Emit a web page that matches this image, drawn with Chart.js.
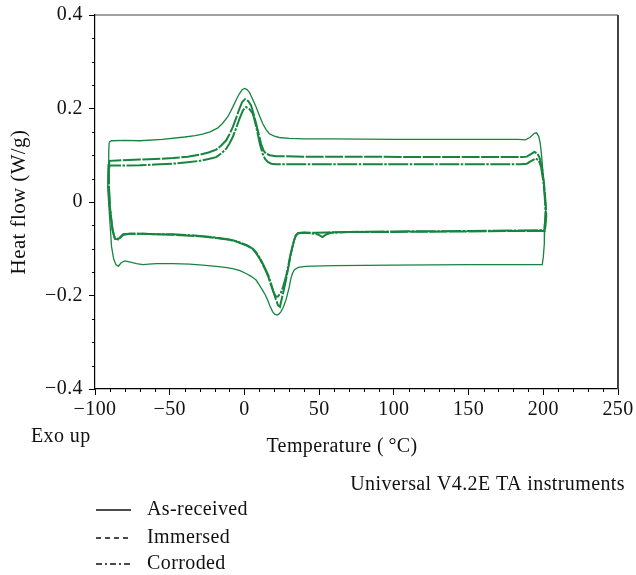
<!DOCTYPE html>
<html>
<head>
<meta charset="utf-8">
<script src="https://cdn.jsdelivr.net/npm/chart.js@4"></script>
<style>
html,body{margin:0;padding:0;background:#fff;}
#wrap{position:relative;width:636px;height:575px;}
</style>
</head>
<body>
<div id="wrap"><canvas id="c" width="636" height="575"></canvas></div>
<script>
// ---- data ----
const seriesNames = ['As-received', 'Immersed', 'Corroded'];
const xTicks = [-100, -50, 0, 50, 100, 150, 200, 250];
const yTicks = [-0.4, -0.2, 0, 0.2, 0.4];

const asReceivedT = [-90.5,-89,-80,-70,-55,-40,-33,-28,-23,-18,-14.7,-11,-7.8,-5,-3.3,-1.5,0,1.5,3.3,5.5,7.8,10,12.2,14.5,16.7,20,23.3,30,40,60,100,150,175,183,188,191,194,195.5,197,198,199,200,201,201.8,201,200.7,200,199.3,
  180,150,100,60,45,41,36,33.5,32.2,31,30,28.8,27.8,26,24.4,23,21.8,20.3,18.9,17,15.6,14,12.2,10,7.8,4.5,1.1,-3,-7.8,-13,-18.9,-28,-36.7,-48,-58.9,-64,-67.8,-72.2,-77,-80,-82.5,-84.4,-86,-87.5,-88.9,-90.4,-91.5,-91.2,-90.8,-90.5];
const asReceivedH = [0.128,0.131,0.132,0.131,0.134,0.139,0.142,0.145,0.150,0.158,0.168,0.183,0.203,0.222,0.232,0.240,0.243,0.241,0.235,0.220,0.203,0.185,0.168,0.155,0.146,0.141,0.138,0.136,0.135,0.135,0.134,0.134,0.134,0.134,0.133,0.138,0.147,0.148,0.140,0.125,0.095,0.055,0.018,-0.011,-0.046,-0.089,-0.118,-0.134,
  -0.134,-0.134,-0.135,-0.136,-0.137,-0.1375,-0.140,-0.145,-0.152,-0.165,-0.182,-0.197,-0.210,-0.225,-0.235,-0.240,-0.242,-0.240,-0.235,-0.222,-0.210,-0.199,-0.189,-0.178,-0.167,-0.159,-0.153,-0.147,-0.1425,-0.140,-0.1375,-0.135,-0.133,-0.132,-0.132,-0.133,-0.134,-0.132,-0.128,-0.126,-0.130,-0.1375,-0.134,-0.122,-0.096,-0.025,0.030,0.080,0.110,0.128];

const immersedT = [-90.8,-90.3,-85,-70,-60,-47.8,-38,-30,-24,-18.9,-15.5,-12.2,-10,-7.8,-5.5,-3.3,-1.5,0.4,2.5,4.4,6,7.8,9.5,11.1,12.8,14.4,17,21.1,40,80,120,160,180,186,189,192,194,196,197.5,199,200.5,201.5,202,201.5,201,
  180,150,100,70,55,47.8,40,36,34.4,33.2,32.2,31,30,28.8,27.8,26,24.4,23.8,22.5,21,19.5,17.8,16,14.4,12,10,7.5,5.6,2,-1.1,-5,-10,-18.9,-28,-36.7,-48,-58.9,-68,-76.7,-81.1,-83,-84.4,-86.7,-88.2,-89.2,-90,-90.6,-90.8];
const immersedH = [0.075,0.088,0.089,0.0907,0.092,0.094,0.097,0.101,0.106,0.112,0.121,0.132,0.145,0.160,0.180,0.200,0.214,0.220,0.216,0.207,0.190,0.168,0.146,0.125,0.110,0.1035,0.100,0.098,0.097,0.097,0.096,0.096,0.096,0.096,0.097,0.103,0.107,0.104,0.095,0.075,0.040,0.000,-0.030,-0.050,-0.062,
  -0.062,-0.063,-0.064,-0.064,-0.065,-0.066,-0.065,-0.066,-0.071,-0.083,-0.096,-0.112,-0.130,-0.150,-0.167,-0.193,-0.215,-0.224,-0.221,-0.208,-0.193,-0.178,-0.160,-0.148,-0.132,-0.120,-0.108,-0.101,-0.094,-0.090,-0.085,-0.081,-0.077,-0.074,-0.072,-0.070,-0.069,-0.068,-0.068,-0.069,-0.075,-0.080,-0.079,-0.061,-0.035,-0.011,0.030,0.075];

const corrodedT = [-91,-90.3,-80,-70,-60,-47.8,-38,-30,-24,-18.9,-15.5,-12.2,-10,-7.8,-5.5,-3.3,-1,1.1,3.3,5.6,7.2,8.9,10.5,12.2,13.8,15.6,18,21.1,40,80,120,160,185,189,192,195,197,198.5,200,201,201.5,201.2,200.8,
  180,150,100,70,58,55,52.2,50,47.8,40,36,34.4,33.2,32.2,31,30,28.8,27.8,26,24.4,22.5,21.1,19.5,17.8,16,14.4,12,10,7.5,5.6,2,-1.1,-5,-10,-18.9,-28,-36.7,-48,-58.9,-68,-76.7,-81.1,-83,-84.4,-86.7,-88.2,-89.2,-90,-90.8,-91];
const corrodedH = [0.060,0.078,0.078,0.0785,0.080,0.082,0.085,0.088,0.092,0.096,0.104,0.114,0.125,0.139,0.158,0.178,0.196,0.203,0.199,0.189,0.170,0.146,0.122,0.1035,0.092,0.0855,0.082,0.081,0.081,0.081,0.081,0.081,0.081,0.082,0.088,0.093,0.089,0.075,0.045,0.010,-0.020,-0.045,-0.060,
  -0.061,-0.062,-0.063,-0.064,-0.066,-0.069,-0.075,-0.071,-0.068,-0.066,-0.067,-0.072,-0.082,-0.094,-0.110,-0.125,-0.145,-0.160,-0.180,-0.194,-0.202,-0.203,-0.193,-0.1745,-0.157,-0.146,-0.130,-0.118,-0.106,-0.100,-0.093,-0.089,-0.084,-0.080,-0.076,-0.073,-0.071,-0.069,-0.069,-0.068,-0.068,-0.070,-0.076,-0.079,-0.077,-0.060,-0.035,-0.011,0.030,0.060];

// ---- build ----
const GREEN = '#17843f';
const SERIF = '"Liberation Serif", "Times New Roman", serif';
const SPACING = '0.4px';
function pts(T, H) { return T.map((t, i) => ({ x: t, y: H[i] })); }
function fmt(v) {
  if (Math.abs(v) < 1e-9) return '0';
  const s = String(Math.round(Math.abs(v) * 100) / 100);
  return v < 0 ? '\u2212' + s : s;
}
const legendDash = [[], [5, 4], [6, 3, 2, 3]];

const datasets = [
  { label: seriesNames[0], data: pts(asReceivedT, asReceivedH), borderColor: GREEN, borderWidth: 1.3, borderDash: [] },
  { label: seriesNames[1], data: pts(immersedT, immersedH), borderColor: GREEN, borderWidth: 2, borderDash: [18, 1.5] },
  { label: seriesNames[2], data: pts(corrodedT, corrodedH), borderColor: GREEN, borderWidth: 2, borderDash: [20, 1.5, 2.5, 1.5] }
].map(d => Object.assign(d, { showLine: true, pointRadius: 0, tension: 0, fill: false }));

const extras = {
  id: 'extras',
  beforeDraw(chart) { chart.ctx.letterSpacing = SPACING; },
  afterDraw(chart) {
    const ctx = chart.ctx, a = chart.chartArea;
    const xs = chart.scales.x, ys = chart.scales.y;
    ctx.save();
    ctx.letterSpacing = SPACING;
    // frame top/right
    ctx.strokeStyle = '#444';
    ctx.lineWidth = 1.2;
    ctx.beginPath(); ctx.moveTo(a.left, a.top); ctx.lineTo(a.right, a.top); ctx.stroke();
    ctx.lineWidth = 2;
    ctx.beginPath(); ctx.moveTo(a.right, a.top); ctx.lineTo(a.right, a.bottom); ctx.stroke();
    // minor ticks
    ctx.strokeStyle = '#000'; ctx.lineWidth = 1;
    for (let v = xs.min; v <= xs.max + 1e-9; v += 10) {
      if (Math.abs(v % 50) < 1e-6) continue;
      const px = Math.round(xs.getPixelForValue(v)) + 0.5;
      ctx.beginPath(); ctx.moveTo(px, a.bottom); ctx.lineTo(px, a.bottom + 3); ctx.stroke();
    }
    for (let v = ys.min; v <= ys.max + 1e-9; v += 0.05) {
      const r = Math.round(v * 100);
      if (Math.abs(r % 20) === 0) continue;
      const py = Math.round(ys.getPixelForValue(v)) + 0.5;
      ctx.beginPath(); ctx.moveTo(a.left - 3, py); ctx.lineTo(a.left, py); ctx.stroke();
    }
    // texts
    ctx.fillStyle = '#111';
    ctx.font = '20px ' + SERIF;
    ctx.textBaseline = 'middle';
    ctx.textAlign = 'left';
    ctx.fillText('Exo up', 31, 437);
    ctx.textAlign = 'center';
    ctx.fillText('Temperature (\u2009\u00b0C)', 342, 447);
    ctx.textAlign = 'right';
    ctx.fillText('Universal V4.2E TA instruments', 625, 485);
    // y title
    ctx.save();
    ctx.font = '21px ' + SERIF;
    ctx.translate(19, 202);
    ctx.rotate(-Math.PI / 2);
    ctx.textAlign = 'center';
    ctx.fillText('Heat flow (W/g)', 0, 0);
    ctx.restore();
    // legend
    const ly = [510, 538, 564];
    chart.data.datasets.forEach((d, i) => {
      ctx.strokeStyle = '#111';
      ctx.lineWidth = 1.3;
      ctx.setLineDash(legendDash[i]);
      ctx.beginPath(); ctx.moveTo(96, ly[i]); ctx.lineTo(131, ly[i]); ctx.stroke();
      ctx.setLineDash([]);
      ctx.textAlign = 'left';
      ctx.fillText(d.label, 147, ly[i]);
    });
    ctx.restore();
  }
};

new Chart(document.getElementById('c'), {
  type: 'scatter',
  data: { datasets },
  options: {
    responsive: false,
    animation: false,
    devicePixelRatio: 1,
    layout: { padding: { top: 15, right: 16, left: 0, bottom: 0 } },
    plugins: { legend: { display: false }, tooltip: { enabled: false } },
    scales: {
      x: {
        type: 'linear', min: -100, max: 250,
        afterBuildTicks: s => { s.ticks = xTicks.map(v => ({ value: v })); },
        afterFit: s => { s.height = 186; },
        ticks: { callback: v => fmt(v), font: { family: SERIF, size: 20 }, color: '#111', padding: 3, maxRotation: 0 },
        grid: { drawOnChartArea: false, drawTicks: true, tickLength: 6, color: '#000' },
        border: { display: true, color: '#000', width: 1.2 }
      },
      y: {
        type: 'linear', min: -0.4, max: 0.4,
        afterBuildTicks: s => { s.ticks = yTicks.map(v => ({ value: v })); },
        afterFit: s => { s.width = 95; s.paddingTop = 0; s.paddingBottom = 0; },
        ticks: { callback: v => fmt(v), font: { family: SERIF, size: 20, lineHeight: 0.8 }, color: '#111', padding: 6 },
        grid: { drawOnChartArea: false, drawTicks: true, tickLength: 6, color: '#000' },
        border: { display: true, color: '#000', width: 1.2 }
      }
    }
  },
  plugins: [extras]
});
</script>
</body>
</html>
